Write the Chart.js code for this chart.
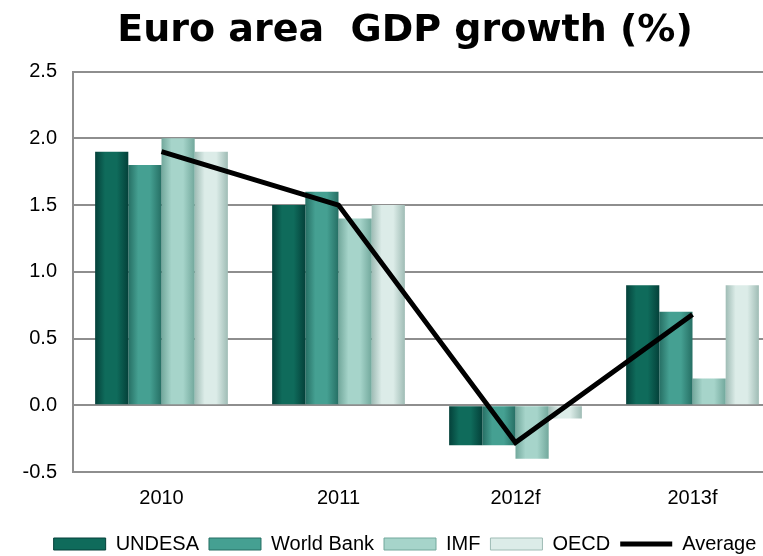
<!DOCTYPE html>
<html>
<head>
<meta charset="utf-8">
<title>Euro area GDP growth</title>
<script src="https://cdn.jsdelivr.net/npm/chart.js@4.4.1/dist/chart.umd.min.js"></script>
<style>
  html, body { margin: 0; padding: 0; background: #fff; overflow: hidden; }
  #wrap { width: 763px; height: 556px; overflow: hidden; }
  #box { width: 810px; height: 568px; }
</style>
</head>
<body>
<div id="wrap"><div id="box"><canvas id="gdp"></canvas></div></div>
<script>
// growth forecasts by source, in percent
const years = ['2010', '2011', '2012f', '2013f'];
const undesa = [1.9, 1.5, -0.3, 0.9];
const worldBank = [1.8, 1.6, -0.3, 0.7];
const imf = [2.0, 1.4, -0.4, 0.2];
const oecd = [1.9, 1.5, -0.1, 0.9];
const average = [1.9, 1.5, -0.28, 0.68];
const yTicks = [-0.5, 0.0, 0.5, 1.0, 1.5, 2.0, 2.5];

// [edge, middle] tones for the glossy bars
const tones = {
  undesa: ['#04413a', '#0f6b5b'],
  worldBank: ['#266f64', '#45a092'],
  imf: ['#72a89c', '#a6d4ca'],
  oecd: ['#9fbcb5', '#dcece8']
};

function shade(t) {
  return function (ctx) {
    const bar = ctx.element;
    if (!bar || bar.x === undefined || !bar.width) return t[1];
    const g = ctx.chart.ctx.createLinearGradient(bar.x - bar.width / 2, 0, bar.x + bar.width / 2, 0);
    g.addColorStop(0, t[0]);
    g.addColorStop(0.3, t[1]);
    g.addColorStop(0.65, t[1]);
    g.addColorStop(1, t[0]);
    return g;
  };
}

function barSet(label, data, t) {
  return {
    type: 'bar',
    label: label,
    data: data,
    backgroundColor: shade(t),
    borderWidth: 0,
    legendFill: t[1],
    legendEdge: t[0],
    barPercentage: 1,
    categoryPercentage: 0.75
  };
}

const gridGrey = '#8e8e8e';

// let the y labels reach past the narrow axis box without being clipped
const widenLabelArea = {
  id: 'widenLabelArea',
  afterLayout: function (c) {
    const y = c.scales.y;
    y.left = 0;
    y.width = y.right;
  }
};

const chart = new Chart(document.getElementById('gdp'), {
  data: {
    labels: years,
    datasets: [
      barSet('UNDESA', undesa, tones.undesa),
      barSet('World Bank', worldBank, tones.worldBank),
      barSet('IMF', imf, tones.imf),
      barSet('OECD', oecd, tones.oecd),
      {
        type: 'line',
        label: 'Average',
        data: average,
        borderColor: '#000',
        borderWidth: 5,
        pointRadius: 0,
        tension: 0,
        order: -1
      }
    ]
  },
  options: {
    responsive: true,
    maintainAspectRatio: false,
    animation: false,
    layout: { padding: { left: 29, right: 29, top: 0, bottom: 4 } },
    font: { family: '"Liberation Sans", Arial, sans-serif', size: 20 },
    plugins: {
      title: {
        display: true,
        text: 'Euro area  GDP growth (%)',
        color: '#000',
        font: { family: '"DejaVu Sans", Verdana, sans-serif', size: 38, weight: 'bold' },
        padding: { top: 8, bottom: 18 }
      },
      legend: {
        position: 'bottom',
        labels: {
          color: '#000',
          usePointStyle: true,
          pointStyleWidth: 52,
          boxHeight: 12,
          padding: 10,
          font: { family: '"Liberation Sans", Arial, sans-serif', size: 20 },
          generateLabels: function (c) {
            return c.data.datasets.map(function (ds, i) {
              const isLine = ds.type === 'line';
              return {
                text: ds.label,
                fillStyle: isLine ? '#000' : ds.legendFill,
                strokeStyle: isLine ? '#000' : ds.legendEdge,
                lineWidth: isLine ? 5 : 1,
                pointStyle: isLine ? 'line' : 'rect',
                fontColor: '#000',
                hidden: false,
                datasetIndex: i
              };
            });
          }
        }
      },
      tooltip: { enabled: false }
    },
    scales: {
      x: {
        grid: { display: false, drawTicks: false },
        border: { display: true, color: gridGrey, width: 2 },
        ticks: { color: '#000', padding: 14, font: { size: 20 } }
      },
      y: {
        min: -0.5,
        max: 2.5,
        afterBuildTicks: function (s) {
          s.ticks = yTicks.map(function (v) { return { value: v }; });
        },
        afterFit: function (s) { s.width = 44; },
        grid: { color: gridGrey, lineWidth: 2, drawTicks: false },
        border: { display: true, color: gridGrey, width: 2 },
        ticks: {
          color: '#000',
          padding: 16,
          font: { size: 20 },
          callback: function (v) { return Number(v).toFixed(1); }
        }
      }
    }
  },
  plugins: [widenLabelArea]
});

// second pass so the bar gradients can use the laid-out bar geometry
chart.update('none');
</script>
</body>
</html>
